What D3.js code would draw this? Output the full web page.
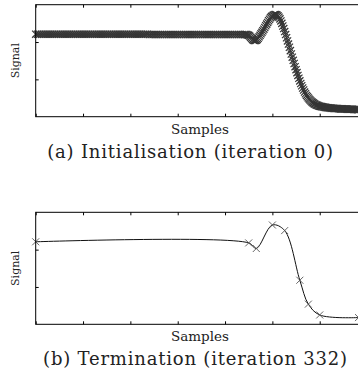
<!DOCTYPE html>
<html>
<head>
<meta charset="utf-8">
<script src="https://cdn.jsdelivr.net/npm/d3@7"></script>
<style>
    body { margin: 0; background: #fff; }
    svg { display: block; }
    .frame { fill: none; stroke: #000; stroke-width: 1; }
    .axis path.domain { display: none; }
    .axis line { stroke: #000; }
    .label { font-family: "DejaVu Serif", serif; fill: #222; }
</style>
</head>
<body>
<div id="container"></div>
<script>
// initial signal: every 2nd sample on the flat part, every sample after 220
var initSamples = [
    0,2,4,6,8,10,12,14,16,18,20,22,24,26,28,30,32,34,36,38,
    40,42,44,46,48,50,52,54,56,58,60,62,64,66,68,70,72,74,76,78,
    80,82,84,86,88,90,92,94,96,98,100,102,104,106,108,110,112,114,116,118,
    120,122,124,126,128,130,132,134,136,138,140,142,144,146,148,150,152,154,156,158,
    160,162,164,166,168,170,172,174,176,178,180,182,184,186,188,190,192,194,196,198,
    200,202,204,206,208,210,212,214,216,218,220,
    221,222,223,224,225,226,227,228,229,230,
    231,232,233,234,235,236,237,238,239,240,
    241,242,243,244,245,246,247,248,249,250,
    251,252,253,254,255,256,257,258,259,260,
    261,262,263,264,265,266,267,268,269,270,
    271,272,273,274,275,276,277,278,279,280,
    281,282,283,284,285,286,287,288,289,290,
    291,292,293,294,295,296,297,298,299,300,
    301,302,303,304,305,306,307,308,309,310,
    311,312,313,314,315,316,317,318,319,320,
    321,322,323,324,325,326,327,328,329,330,
    331,332,333,334,335,336,337,338,339,340,341
];
var initValues = [
    2.21,2.21,2.21,2.21,2.21,2.21,2.21,2.21,2.21,2.21,2.21,2.21,2.21,2.21,2.21,2.21,2.21,2.21,2.21,2.21,
    2.21,2.21,2.21,2.21,2.21,2.21,2.21,2.21,2.21,2.21,2.21,2.21,2.21,2.21,2.21,2.21,2.21,2.21,2.21,2.21,
    2.21,2.21,2.21,2.21,2.21,2.21,2.21,2.21,2.21,2.21,2.21,2.21,2.21,2.21,2.21,2.21,2.21,2.21,2.21,2.21,
    2.20,2.20,2.20,2.20,2.20,2.20,2.20,2.20,2.20,2.20,2.20,2.20,2.20,2.20,2.20,2.20,2.20,2.20,2.20,2.20,
    2.20,2.20,2.20,2.20,2.20,2.20,2.20,2.20,2.20,2.20,2.20,2.20,2.20,2.20,2.20,2.20,2.20,2.20,2.20,2.20,
    2.20,2.20,2.20,2.20,2.20,2.20,2.20,2.20,2.20,2.20,2.20,
    2.20,2.20,2.20,2.19,2.18,2.16,2.13,2.10,2.07,2.05,
    2.04,2.04,2.05,2.07,2.10,2.14,2.18,2.22,2.26,2.30,
    2.345,2.39,2.435,2.48,2.525,2.57,2.61,2.65,2.68,2.70,
    2.72,2.73,2.735,2.73,2.72,2.70,2.665,2.62,2.565,2.50,
    2.43,2.36,2.28,2.20,2.115,2.03,1.945,1.86,1.77,1.68,
    1.595,1.51,1.425,1.34,1.26,1.18,1.105,1.03,0.96,0.89,
    0.83,0.77,0.715,0.66,0.615,0.57,0.535,0.50,0.47,0.44,
    0.415,0.39,0.37,0.35,0.335,0.32,0.31,0.30,0.29,0.28,
    0.275,0.27,0.265,0.26,0.255,0.25,0.245,0.24,0.238,0.235,
    0.233,0.23,0.228,0.225,0.223,0.22,0.22,0.22,0.218,0.215,
    0.213,0.21,0.21,0.21,0.208,0.205,0.205,0.205,0.203,0.20,
    0.20,0.20,0.20,0.20,0.198,0.195,0.195,0.195,0.193,0.19,0.19
];

// control points at termination
var finalSamples = [0, 225, 233, 250, 263, 279, 288, 300, 341];
var finalValues  = [2.21, 2.18, 2.03, 2.66, 2.51, 1.18, 0.54, 0.25, 0.18];

var xTicks = [0, 50, 100, 150, 200, 250, 300];
var yTicks = [1, 2];
var captions = ["(a) Initialisation (iteration 0)", "(b) Termination (iteration 332)"];

var width = 358, height = 391;

var svg = d3.select("div#container")
    .append("svg")
    .attr("width", width)
    .attr("height", height);

function zip(xs, ys) {
    return xs.map(function(s, i) { return {s: s, v: ys[i]}; });
}

function buildPanel(top, data, opts) {
    var left = 35.7, right = 359, h = 112;
    var w = right - left;

    var x = d3.scaleLinear().domain([0, 341.5]).range([0, w]);
    var y = d3.scaleLinear().domain([0, 3]).range([h, 0]);

    var g = svg.append("g").attr("transform", "translate(" + left + "," + top + ")");

    g.append("g").attr("class", "x axis")
        .attr("transform", "translate(0," + h + ")")
        .call(d3.axisBottom(x).tickValues(xTicks).tickSize(-3).tickFormat(""));
    g.append("g").attr("class", "x axis")
        .call(d3.axisTop(x).tickValues(xTicks).tickSize(-3).tickFormat(""));
    g.append("g").attr("class", "y axis")
        .call(d3.axisLeft(y).tickValues(yTicks).tickSize(-3).tickFormat(""));

    var line = d3.line()
        .x(function(d) { return x(d.s); })
        .y(function(d) { return y(d.v); })
        .curve(opts.curve);

    g.append("path")
        .datum(data)
        .attr("fill", "none")
        .attr("stroke", opts.lineColor)
        .attr("stroke-width", 1)
        .attr("d", line);

    var m = opts.markerSize;
    g.selectAll(".point")
        .data(data)
        .enter().append("path")
        .attr("class", "point")
        .attr("transform", function(d) { return "translate(" + x(d.s) + "," + y(d.v) + ")"; })
        .attr("d", "M" + (-m) + "," + (-m) + "L" + m + "," + m + "M" + (-m) + "," + m + "L" + m + "," + (-m))
        .attr("fill", "none")
        .attr("stroke", opts.markerColor)
        .attr("stroke-width", opts.markerWidth);

    g.append("rect")
        .attr("class", "frame")
        .attr("x", 0).attr("y", 0)
        .attr("width", w).attr("height", h);

    g.append("text")
        .attr("class", "label")
        .attr("transform", "translate(-17," + (h / 2) + ") rotate(-90)")
        .attr("text-anchor", "middle")
        .attr("font-size", 11)
        .text("Signal");

    g.append("text")
        .attr("class", "label")
        .attr("x", 200 - left)
        .attr("y", h + 17)
        .attr("text-anchor", "middle")
        .attr("font-size", 13.5)
        .text("Samples");

    g.append("text")
        .attr("class", "label")
        .attr("x", opts.captionX - left)
        .attr("y", h + 41)
        .attr("text-anchor", "middle")
        .attr("font-size", 18)
        .attr("letter-spacing", 0.8)
        .text(opts.caption);
}

buildPanel(4.7, zip(initSamples, initValues), {
    curve: d3.curveLinear, lineColor: "#333", markerColor: "#353535",
    markerSize: 3.6, markerWidth: 1.2, caption: captions[0], captionX: 190.5
});

buildPanel(212.3, zip(finalSamples, finalValues), {
    curve: d3.curveCatmullRom, lineColor: "#111", markerColor: "#555",
    markerSize: 3.5, markerWidth: 0.9, caption: captions[1], captionX: 195.5
});
</script>
</body>
</html>
